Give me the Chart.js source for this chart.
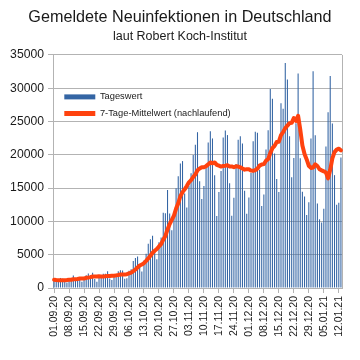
<!DOCTYPE html>
<html><head><meta charset="utf-8">
<script src="https://cdn.jsdelivr.net/npm/chart.js@4/dist/chart.umd.min.js"></script>
<style>html,body{margin:0;padding:0;background:#fff}</style>
</head><body>
<canvas id="c" width="360" height="360" style="width:360px;height:360px;display:block"></canvas>
<script>
const categories = [
"01.09.20","02.09.20","03.09.20","04.09.20","05.09.20","06.09.20","07.09.20","08.09.20","09.09.20","10.09.20",
"11.09.20","12.09.20","13.09.20","14.09.20","15.09.20","16.09.20","17.09.20","18.09.20","19.09.20","20.09.20",
"21.09.20","22.09.20","23.09.20","24.09.20","25.09.20","26.09.20","27.09.20","28.09.20","29.09.20","30.09.20",
"01.10.20","02.10.20","03.10.20","04.10.20","05.10.20","06.10.20","07.10.20","08.10.20","09.10.20","10.10.20",
"11.10.20","12.10.20","13.10.20","14.10.20","15.10.20","16.10.20","17.10.20","18.10.20","19.10.20","20.10.20",
"21.10.20","22.10.20","23.10.20","24.10.20","25.10.20","26.10.20","27.10.20","28.10.20","29.10.20","30.10.20","31.10.20",
"01.11.20","02.11.20","03.11.20","04.11.20","05.11.20","06.11.20","07.11.20","08.11.20","09.11.20","10.11.20",
"11.11.20","12.11.20","13.11.20","14.11.20","15.11.20","16.11.20","17.11.20","18.11.20","19.11.20","20.11.20",
"21.11.20","22.11.20","23.11.20","24.11.20","25.11.20","26.11.20","27.11.20","28.11.20","29.11.20","30.11.20",
"01.12.20","02.12.20","03.12.20","04.12.20","05.12.20","06.12.20","07.12.20","08.12.20","09.12.20","10.12.20",
"11.12.20","12.12.20","13.12.20","14.12.20","15.12.20","16.12.20","17.12.20","18.12.20","19.12.20","20.12.20",
"21.12.20","22.12.20","23.12.20","24.12.20","25.12.20","26.12.20","27.12.20","28.12.20","29.12.20","30.12.20","31.12.20",
"01.01.21","02.01.21","03.01.21","04.01.21","05.01.21","06.01.21","07.01.21","08.01.21","09.01.21","10.01.21",
"11.01.21","12.01.21","13.01.21"
];
const tickLabels = ["01.09.20","08.09.20","15.09.20","22.09.20","29.09.20","06.10.20","13.10.20","20.10.20","27.10.20",
"03.11.20","10.11.20","17.11.20","24.11.20","01.12.20","08.12.20","15.12.20","22.12.20","29.12.20","05.01.21","12.01.21"];
const yTicks = [0,5000,10000,15000,20000,25000,30000,35000];
const tageswert = [
1218,1256,1311,1507,1378,988,814,1499,1176,1892,1484,1630,1458,927,1407,1901,2194,1916,2297,1345,922,1769,1769,2143,2153,2507,1411,1192,1798,2089,
2503,2673,2639,1382,1467,2594,2828,4058,4516,4721,3483,2467,4122,5132,6638,7334,7830,5587,4325,6868,7595,11287,11242,14714,11176,8685,11409,14964,16774,18681,19059,
14177,12097,15352,17214,19990,21506,23399,16017,13363,15332,18487,21866,23542,22461,16947,10824,14419,17561,22609,23648,22964,15741,10864,13554,18633,22268,22806,21695,14611,11169,
13604,17270,22046,23449,23318,17767,12332,14054,20815,23679,29875,28438,20200,16362,14432,27728,26923,33777,31300,22771,16643,19528,24740,32195,19500,14455,13755,10976,12892,22459,32552,
22924,12690,10315,9847,11897,21237,26391,31849,24694,16946,12497,12802,19600
];
const mittelwert = [
1249,1203,1175,1166,1152,1181,1210,1250,1239,1322,1319,1355,1422,1438,1425,1528,1572,1633,1729,1712,1712,1763,1745,1737,1771,1801,1811,1849,1853,1899,
1950,2025,2044,2039,2079,2192,2298,2520,2783,3081,3381,3524,3742,4071,4440,4842,5287,5587,5853,6245,6597,7261,7819,8803,9601,10224,10873,11925,12709,13772,14393,
14821,15309,15872,16193,16653,17056,17676,17939,18120,18117,18299,18567,18858,18724,18857,18494,18364,18231,18338,18353,18425,18252,18258,18134,18288,18239,18119,17937,17776,17819,
17827,17632,17600,17692,17924,18375,18541,18605,19112,19345,20263,20994,21342,21918,21972,22959,23423,23980,24389,24756,24796,25524,25097,25851,23811,21405,20117,19307,18359,18033,18084,
18573,18321,17830,17668,17526,17352,16472,17747,19461,20409,20787,20917,20683
];

const FONT = "'Liberation Sans', Arial, sans-serif";
const BLUE = '#3465a4';
const ORANGE = '#ff420e';
const GRID = '#b3b3b3';

const framePlugin = {
  id: 'frame',
  beforeDatasetsDraw(chart) {
    const {ctx, chartArea: a} = chart;
    ctx.save();
    ctx.strokeStyle = GRID;
    ctx.lineWidth = 1;
    ctx.beginPath();
    ctx.moveTo(Math.round(a.right) + 0.5, a.top);
    ctx.lineTo(Math.round(a.right) + 0.5, a.bottom);
    ctx.stroke();
    ctx.restore();
  }
};
const legendPos = {
  id: 'legendPos',
  beforeDraw(chart) {
    const l = chart.legend, a = chart.chartArea;
    if (l) { l.left = a.left + 4; l.top = a.top + 30; }
  }
};

new Chart(document.getElementById('c'), {
  data: {
    labels: categories,
    datasets: [
      { type: 'bar', label: 'Tageswert', data: tageswert, backgroundColor: BLUE, borderWidth: 0,
        barPercentage: 0.5, categoryPercentage: 1.0, order: 2 },
      { type: 'line', label: '7-Tage-Mittelwert (nachlaufend)', data: mittelwert, borderColor: ORANGE,
        backgroundColor: ORANGE, borderWidth: 4, pointRadius: 0, tension: 0, order: 1,
        borderJoinStyle: 'round', borderCapStyle: 'round' }
    ]
  },
  options: {
    responsive: false,
    animation: false,
    devicePixelRatio: 1,
    layout: { padding: { top: 8, right: 0, bottom: 0, left: 0 } },
    plugins: {
      title: { display: true, text: 'Gemeldete Neuinfektionen in Deutschland', color: '#1a1a1a',
        font: { family: FONT, size: 16.2, weight: 'normal' }, padding: { top: 0, bottom: 2 } },
      subtitle: { display: true, text: 'laut Robert Koch-Institut', color: '#1a1a1a',
        font: { family: FONT, size: 12.5, weight: 'normal' }, padding: { top: 0, bottom: 10.5 } },
      legend: {
        position: 'chartArea', align: 'start',
        labels: {
          font: { family: FONT, size: 9.3 }, color: '#1a1a1a', boxWidth: 31, boxHeight: 5, padding: 7.3,
          sort: (a, b) => a.datasetIndex - b.datasetIndex,
          generateLabels(chart) {
            return Chart.defaults.plugins.legend.labels.generateLabels(chart).map(it => {
              const c = chart.data.datasets[it.datasetIndex].type === 'line' ? ORANGE : BLUE;
              return Object.assign(it, { fillStyle: c, strokeStyle: c, lineWidth: 0 });
            });
          }
        }
      },
      tooltip: { enabled: false }
    },
    scales: {
      x: {
        offset: true,
        grid: { display: true, drawOnChartArea: false, tickLength: 5, color: GRID, offset: false },
        border: { color: GRID },
        ticks: { autoSkip: false, maxRotation: 90, minRotation: 90, padding: 3, color: '#1a1a1a',
          font: { family: FONT, size: 10.5 },
          callback(v, i) { const lab = categories[i]; return tickLabels.includes(lab) ? lab : null; } },
        afterFit(s) { s.height = 72; }
      },
      y: {
        min: 0, max: 35000,
        afterBuildTicks(s) { s.ticks = yTicks.map(v => ({ value: v })); },
        grid: { color: GRID, tickLength: 5 },
        border: { color: GRID },
        ticks: { padding: 4, color: '#1a1a1a', font: { family: FONT, size: 12.2 },
          callback(v) { return String(v); } },
        afterFit(s) { s.width = 53; }
      },
      yRight: {
        position: 'right', min: 0, max: 35000,
        grid: { display: false, drawOnChartArea: false },
        border: { display: false },
        ticks: { display: false },
        afterFit(s) { s.width = 18; }
      }
    }
  },
  plugins: [framePlugin, legendPos]
});
</script>
</body></html>
